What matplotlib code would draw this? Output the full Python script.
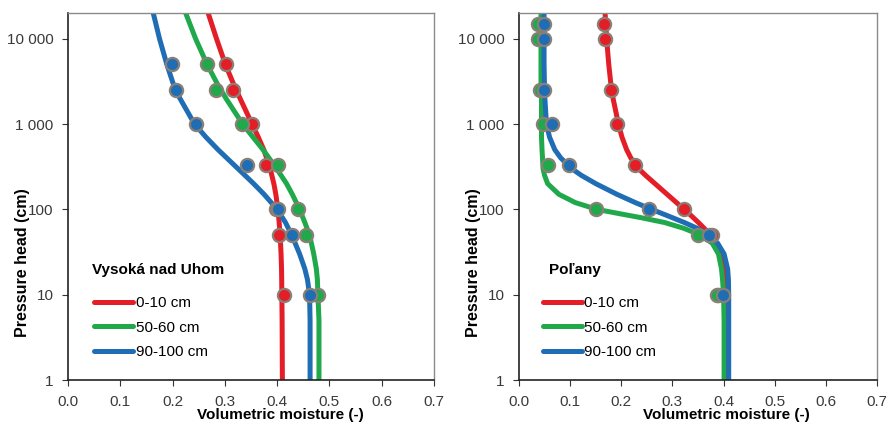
import matplotlib.pyplot as plt
from matplotlib.ticker import FixedLocator, NullLocator

plt.switch_backend('Agg')

# Measured points (pressure head in cm, volumetric moisture)
left_pt_h = [10, 50, 100, 330, 1000, 2500, 5000]
left_pt_red = [0.414, 0.404, 0.398, 0.378, 0.352, 0.316, 0.303]
left_pt_green = [0.479, 0.456, 0.440, 0.402, 0.333, 0.283, 0.266]
left_pt_blue = [0.463, 0.428, 0.401, 0.343, 0.244, 0.207, 0.198]

right_pt_h = [10, 50, 100, 330, 1000, 2500, 10000, 15000]
right_pt_red = [0.389, 0.378, 0.323, 0.226, 0.192, 0.179, 0.169, 0.166]
right_pt_green = [0.387, 0.350, 0.150, 0.057, 0.046, 0.042, 0.037, 0.037]
right_pt_blue = [0.399, 0.371, 0.254, 0.098, 0.065, 0.049, 0.049, 0.049]

# Fitted retention curves
left_h = [1, 5, 10, 15, 20, 30, 50, 70, 100, 150, 200, 300, 500, 700,
          1000, 2000, 3000, 5000, 10000, 20000]
left_red = [0.410, 0.4095, 0.409, 0.4087, 0.4084, 0.4075, 0.4057, 0.4039, 0.4014, 0.3975,
            0.3937, 0.3867, 0.3745, 0.364, 0.352, 0.329, 0.316, 0.301, 0.284, 0.268]
left_green = [0.480, 0.480, 0.478, 0.477, 0.475, 0.470, 0.462, 0.453, 0.443, 0.429,
              0.418, 0.399, 0.373, 0.354, 0.334, 0.302, 0.285, 0.266, 0.244, 0.225]
left_blue = [0.463, 0.463, 0.462, 0.458, 0.453, 0.443, 0.428, 0.416, 0.400, 0.375,
             0.355, 0.325, 0.287, 0.264, 0.242, 0.214, 0.201, 0.189, 0.175, 0.163]

right_h = [1, 5, 10, 15, 20, 30, 40, 50, 60, 70, 80, 90, 100, 120, 150, 200,
           250, 300, 400, 500, 700, 1000, 2000, 3000, 5000, 10000, 20000]
right_red = [0.409, 0.409, 0.4085, 0.4064, 0.4033, 0.3954, 0.3854, 0.3738, 0.362, 0.3509,
             0.3407, 0.3315, 0.323, 0.308, 0.2896, 0.2659, 0.2475, 0.2337, 0.2187, 0.2105,
             0.2014, 0.1944, 0.1839, 0.1795, 0.1755, 0.1713, 0.1683]
right_green = [0.401, 0.401, 0.400, 0.398, 0.396, 0.390, 0.378, 0.355, 0.322, 0.285,
               0.238, 0.192, 0.152, 0.110, 0.078, 0.056, 0.050, 0.047, 0.046, 0.045,
               0.044, 0.044, 0.044, 0.043, 0.043, 0.043, 0.043]
right_blue = [0.410, 0.410, 0.410, 0.4095, 0.408, 0.401, 0.3885, 0.372, 0.3483, 0.3235,
              0.2997, 0.2783, 0.259, 0.2274, 0.1915, 0.1502, 0.122, 0.103, 0.0817, 0.070,
              0.0598, 0.0536, 0.0506, 0.0497, 0.049, 0.049, 0.049]

depth_labels = ['0-10 cm', '50-60 cm', '90-100 cm']
site_names = ['Vysoká nad Uhom', 'Poľany']
y_ticks = [1, 10, 100, 1000, 10000]
y_tick_labels = ['1', '10', '100', '1 000', '10 000']
x_ticks = [0.0, 0.1, 0.2, 0.3, 0.4, 0.5, 0.6, 0.7]

colors = ['#E41E26', '#1FA94B', '#1F6DB5']
edge = '#8A7F76'

plt.rcParams['font.family'] = ['Liberation Sans', 'DejaVu Sans']


def draw_panel(ax, h, curves, pt_h, points, site, title_x, leg_x):
    for vals, c, lab in zip(curves, colors, depth_labels):
        ax.plot(vals, h, color=c, lw=3.6, label=lab, zorder=2,
                solid_joinstyle='round')
    for vals, c in zip(points, colors):
        ax.plot(vals, pt_h, 'o', color=c, ms=9.5, mec=edge, mew=1.6, zorder=3)

    ax.set_yscale('log')
    ax.set_xlim(0, 0.7)
    ax.set_ylim(1, 20000)
    ax.yaxis.set_major_locator(FixedLocator(y_ticks))
    ax.yaxis.set_minor_locator(NullLocator())
    ax.set_yticklabels(y_tick_labels)
    ax.set_xticks(x_ticks)
    ax.set_xticklabels([f'{v:.1f}' for v in x_ticks])
    ax.tick_params(direction='out', length=4, pad=6.5, labelsize=11,
                   labelcolor='#3a3a3a', color='#333333')

    for s in ['left', 'bottom']:
        ax.spines[s].set_color('#222222')
        ax.spines[s].set_linewidth(1.2)
    for s in ['top', 'right']:
        ax.spines[s].set_color('#8a8a8a')
        ax.spines[s].set_linewidth(1.0)

    ax.set_xlabel('Volumetric moisture (-)', fontsize=11, fontweight='bold')
    ax.xaxis.set_label_coords(0.58, -0.075)
    ax.set_ylabel('Pressure head (cm)', fontsize=11.5, fontweight='bold')
    ax.yaxis.set_label_coords(-0.105, 0.32)

    ax.text(title_x, 0.30, site, transform=ax.transAxes, fontsize=11,
            fontweight='bold', ha='left', va='center')
    leg = ax.legend(loc='center left', bbox_to_anchor=(leg_x, 0.143), frameon=False,
                    fontsize=11, handlelength=2.55, handletextpad=0.15,
                    labelspacing=0.68, borderpad=0, borderaxespad=0)
    for line in leg.get_lines():
        line.set_solid_capstyle('round')


fig = plt.figure(figsize=(8.86, 4.24), dpi=100)
ax1 = fig.add_axes([68 / 886, 44 / 424, 366 / 886, 367 / 424])
ax2 = fig.add_axes([519 / 886, 44 / 424, 358 / 886, 367 / 424])

draw_panel(ax1, left_h, [left_red, left_green, left_blue], left_pt_h,
           [left_pt_red, left_pt_green, left_pt_blue], site_names[0], 0.065, 0.072)
draw_panel(ax2, right_h, [right_red, right_green, right_blue], right_pt_h,
           [right_pt_red, right_pt_green, right_pt_blue], site_names[1], 0.084, 0.067)

fig.savefig('out.png', dpi=100)
plt.close(fig)
